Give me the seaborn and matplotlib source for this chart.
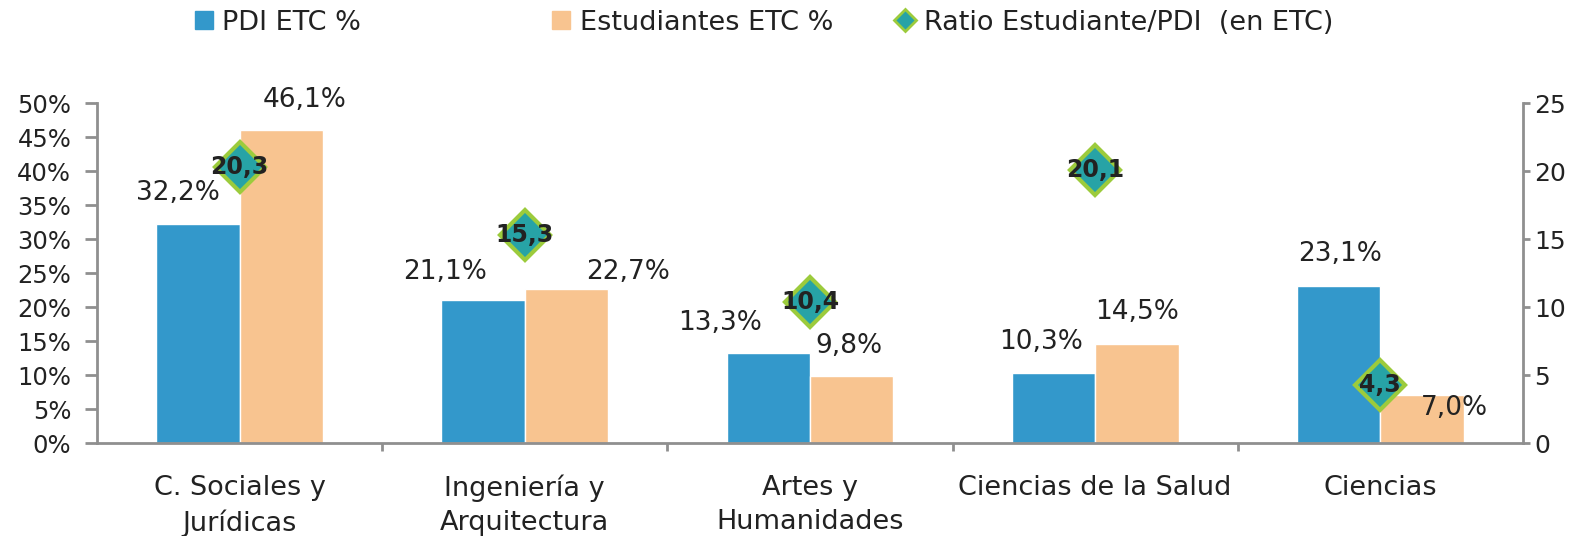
import numpy as np
import pandas as pd
import seaborn as sns
import matplotlib.pyplot as plt
from matplotlib.lines import Line2D
from matplotlib.ticker import FuncFormatter, FixedLocator

# data
categories = ['C. Sociales y\nJurídicas', 'Ingeniería y\nArquitectura', 'Artes y\nHumanidades',
              'Ciencias de la Salud', 'Ciencias']
pdi_pct = [32.2, 21.1, 13.3, 10.3, 23.1]
est_pct = [46.1, 22.7, 9.8, 14.5, 7.0]
ratio = [20.3, 15.3, 10.4, 20.1, 4.3]
series_names = ['PDI ETC %', 'Estudiantes ETC %']
ratio_name = 'Ratio Estudiante/PDI  (en ETC)'

blue = '#3398cb'
orange = '#f8c490'
teal = '#27a3a6'
lime = '#9ccb3c'
grey = '#8f8f8f'
txt = '#222222'

sns.set_style('white')
plt.rcParams['font.family'] = ['DejaVu Sans']
fs = 19


def fmt(v, pct=True):
    s = f'{v:.1f}'.replace('.', ',')
    return s + '%' if pct else s


df = pd.DataFrame({
    'cat': categories * 2,
    'serie': [series_names[0]] * 5 + [series_names[1]] * 5,
    'val': pdi_pct + est_pct,
})

fig = plt.figure(figsize=(15.79, 5.36), dpi=100)
ax = fig.add_axes([0.0614, 0.1735, 0.9031, 0.6343])
sns.barplot(data=df, x='cat', y='val', hue='serie', palette=[blue, orange],
            width=0.585, gap=0, saturation=1, ax=ax, legend=False)
ax.set_xlim(-0.5, 4.5)
ax.set_ylim(0, 50)
ax.set_yticks(np.arange(0, 51, 5))
ax.yaxis.set_major_formatter(FuncFormatter(lambda v, p: f'{v:.0f}%'))
ax.xaxis.set_minor_locator(FixedLocator(np.arange(0.5, 4, 1)))
ax.set_xlabel('')
ax.set_ylabel('')

# value labels, offsets in points (Excel-like placement)
offs_pdi = [(-14, 22), (-27, 20), (-35, 21), (-9, 22), (1, 23)]
offs_est = [(17, 21), (44, 12), (-2, 22), (0, 23), (23, -9)]
for i, (p, e) in enumerate(zip(pdi_pct, est_pct)):
    bp = ax.patches[i]
    be = ax.patches[i + 5]
    ax.annotate(fmt(p), (bp.get_x() + bp.get_width() / 2, p), xytext=offs_pdi[i],
                textcoords='offset points', ha='center', va='center', fontsize=fs, color=txt)
    ax.annotate(fmt(e), (be.get_x() + be.get_width() / 2, e), xytext=offs_est[i],
                textcoords='offset points', ha='center', va='center', fontsize=fs, color=txt)

ax2 = ax.twinx()
sns.pointplot(x=categories, y=ratio, ax=ax2, linestyle='none', markers='D', color=teal,
              markersize=25, markeredgecolor=lime, markeredgewidth=3, errorbar=None)
ax2.set_xlim(-0.5, 4.5)
ax2.set_ylim(0, 25)
ax2.set_yticks(np.arange(0, 26, 5))
ax2.set_ylabel('')
for i, r in enumerate(ratio):
    ax2.text(i, r, fmt(r, pct=False), ha='center', va='center',
             fontsize=17, fontweight='bold', color=txt)

for a in (ax, ax2):
    for s in a.spines.values():
        s.set_visible(False)
ax.spines['left'].set_visible(True)
ax.spines['bottom'].set_visible(True)
ax2.spines['right'].set_visible(True)
for s in (ax.spines['left'], ax.spines['bottom'], ax2.spines['right']):
    s.set_color(grey)
    s.set_linewidth(2)
ax.tick_params(axis='x', which='major', labelsize=fs + 0.5, labelcolor=txt, length=0, pad=23)
ax.tick_params(axis='x', which='minor', bottom=True, color=grey, width=2, length=6)
ax.tick_params(axis='y', left=True, labelsize=17.5, labelcolor=txt, color=grey,
               width=2, length=8.5, pad=10)
ax2.tick_params(axis='y', right=True, labelsize=18, labelcolor=txt, color=grey,
                width=2, length=5, pad=3)
for lab in ax.get_xticklabels():
    lab.set_linespacing(1.4)

# legend entries placed like the Excel legend
h1 = Line2D([], [], marker='s', linestyle='none', color=blue, markersize=13)
h2 = Line2D([], [], marker='s', linestyle='none', color=orange, markersize=13)
h3 = Line2D([], [], marker='D', linestyle='none', color=teal, markeredgecolor=lime,
            markeredgewidth=2, markersize=11)
for h, lab, xpos in [(h1, series_names[0], 0.1225), (h2, series_names[1], 0.349),
                     (h3, ratio_name, 0.567)]:
    fig.legend([h], [lab], loc='center left', bbox_to_anchor=(xpos, 0.958), frameon=False,
               fontsize=fs + 0.5, handlelength=0.75, handletextpad=0.3, borderaxespad=0,
               borderpad=0, labelcolor=txt)

fig.savefig('out.png', dpi=100)
